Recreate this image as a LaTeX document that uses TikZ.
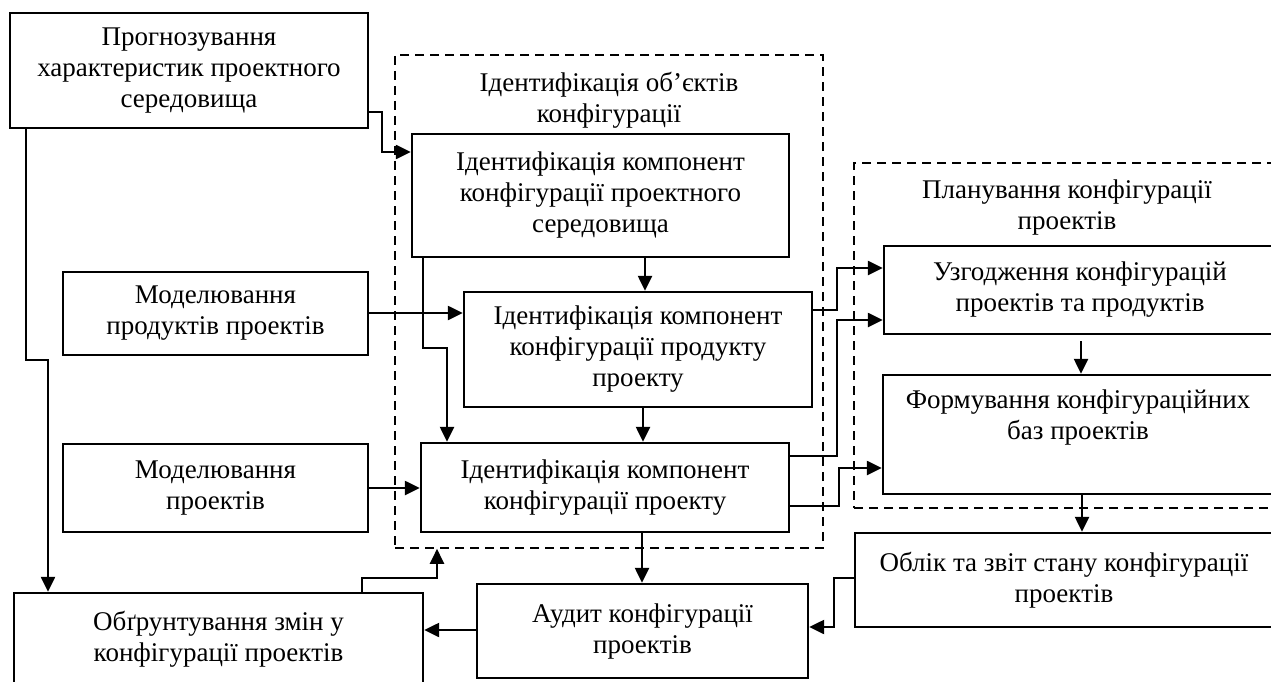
\documentclass[tikz,border=0pt]{standalone}
\usepackage{fontspec}
\setmainfont{Liberation Serif}
\usetikzlibrary{arrows.meta,positioning}

\tikzset{
  blok/.style={draw, line width=2.4pt, align=center, inner sep=0pt,
    font=\fontsize{27}{31}\selectfont},
  ramka/.style={draw, line width=1.6pt, dash pattern=on 9pt off 6pt, inner sep=0pt},
  napys/.style={align=center, inner sep=0pt, font=\fontsize{27}{31}\selectfont},
  potik/.style={line width=2.4pt, -{Triangle[length=15pt,width=14pt]}},
}

\begin{document}
\begin{tikzpicture}[x=1pt,y=-1pt]
  \useasboundingbox (0,0) rectangle (1271,682);

  % dashed groups
  \node[ramka, minimum width=428pt, minimum height=493pt] (obj) at (609,301.5) {};
  \node[napys] (objt) at (609,100) {Ідентифікація об’єктів\\конфігурації};
  \node[ramka, minimum width=436pt, minimum height=345pt] (plan) at (1072,335.5) {};
  \node[napys] (plant) at (1067,207.5) {Планування конфігурації\\проектів};

  % boxes
  \node[blok, minimum width=358pt, minimum height=115pt] (prog) at (189,70.5)
    {Прогнозування\\характеристик проектного\\середовища};
  \node[blok, minimum width=377pt, minimum height=123pt] (iser) at (600.5,195.5)
    {Ідентифікація компонент\\конфігурації проектного\\середовища};
  \node[blok, minimum width=348pt, minimum height=115pt] (iprod) at (638,349.5)
    {Ідентифікація компонент\\конфігурації продукту\\проекту};
  \node[blok, minimum width=368pt, minimum height=89pt] (iproj) at (605,487.5)
    {Ідентифікація компонент\\конфігурації проекту};
  \node[blok, minimum width=305pt, minimum height=83pt] (mprod) at (215.5,313.5)
    {Моделювання\\продуктів проектів};
  \node[blok, minimum width=305pt, minimum height=88pt] (mproj) at (215.5,488)
    {Моделювання\\проектів};
  \node[blok, minimum width=392pt, minimum height=88pt] (uzg) at (1080,290)
    {Узгодження конфігурацій\\проектів та продуктів};
  \node[blok, minimum width=390pt, minimum height=119pt] (form) at (1078,434.5)
    {Формування конфігураційних\\баз проектів\\\strut};
  \node[blok, minimum width=418pt, minimum height=94pt] (oblik) at (1064,580)
    {Облік та звіт стану конфігурації\\проектів};
  \node[blok, minimum width=331pt, minimum height=94pt] (audyt) at (642.5,631)
    {Аудит конфігурації\\проектів};
  \node[blok, minimum width=409pt, minimum height=92pt] (obgr) at (218.5,639)
    {Обґрунтування змін у\\конфігурації проектів};

  % connectors
  \draw[potik] (prog.east |- 0,112) -| (382,152) -- (iser.west |- 0,152);
  \draw[potik] (prog.south -| 26,0) |- (48,360) -- (obgr.north -| 48,0);
  \draw[potik] (mprod.east |- 0,313) -- (iprod.west |- 0,313);
  \draw[potik] (iser.south -| 645,0) -- (iprod.north -| 645,0);
  \draw[potik] (iser.south -| 423,0) |- (447,348) -- (iproj.north -| 447,0);
  \draw[potik] (iprod.south -| 643,0) -- (iproj.north -| 643,0);
  \draw[potik] (mproj.east |- 0,488) -- (iproj.west |- 0,488);
  \draw[potik] (iprod.east |- 0,310) -| (837,268) -- (uzg.west |- 0,268);
  \draw[potik] (iproj.east |- 0,456) -| (837,320) -- (uzg.west |- 0,320);
  \draw[potik] (iproj.east |- 0,506) -| (839,468) -- (form.west |- 0,468);
  \draw[potik, shorten <=6pt] (uzg.south -| 1081,0) -- (form.north -| 1081,0);
  \draw[potik] (form.south -| 1082,0) -- (oblik.north -| 1082,0);
  \draw[potik] (oblik.west |- 0,578) -| (834,627) -- (audyt.east |- 0,627);
  \draw[potik] (iproj.south -| 642,0) -- (audyt.north -| 642,0);
  \draw[potik] (audyt.west |- 0,630) -- (obgr.east |- 0,630);
  \draw[potik] (obgr.north -| 362,0) |- (437,578) -- (obj.south -| 437,0);
\end{tikzpicture}
\end{document}
